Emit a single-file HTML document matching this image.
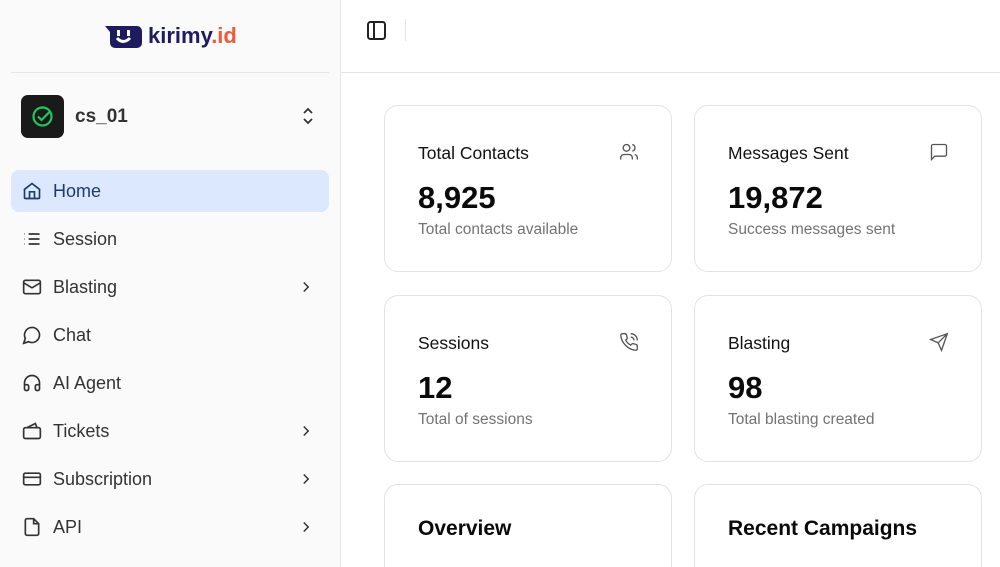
<!DOCTYPE html>
<html><head><meta charset="utf-8"><style>
*{box-sizing:border-box;margin:0;padding:0}
html{width:1000px;height:567px;overflow:hidden}
body{width:1000px;height:567px;overflow:hidden;font-family:"Liberation Sans",sans-serif;background:#fff;position:relative}
.side{position:absolute;left:0;top:0;width:341px;height:567px;background:#fafafa;border-right:1px solid #e5e5e5}
.logo{position:absolute;left:103px;top:22px;height:28px;display:flex;align-items:center}
.logo .t{font-size:22px;font-weight:bold;color:#1e1b5e;margin-left:5px}
.logo .t span{color:#f05a3a}
.hr{position:absolute;left:11px;top:72px;width:318px;height:1px;background:#e5e5e5}
.acc{position:absolute;left:21px;top:95px;width:43px;height:43px;border-radius:7px;background:#1a1a1a}
.accn{position:absolute;left:75px;top:106px;font-size:19px;font-weight:bold;color:#333}
.item{position:absolute;left:11px;width:318px;height:42px;border-radius:8px;font-size:18px;color:#333;display:flex;align-items:center;padding-left:42px}
.item svg.ic{position:absolute;left:11px;top:11px}
.item .ch{position:absolute;right:14px;top:12px}
.main-top{position:absolute;left:341px;top:72px;width:659px;height:1px;background:#e5e5e5}
.card{position:absolute;width:288px;height:167px;border:1px solid #e3e3e3;border-radius:14px;background:#fff}
.card .h{position:absolute;left:33px;top:37px;font-size:17.5px;color:#111}
.card .v{position:absolute;left:33px;top:74px;font-size:31px;font-weight:bold;color:#0a0a0a}
.card .s{position:absolute;left:33px;top:115px;font-size:15.5px;color:#737373}
.card svg{position:absolute;right:32px;top:36px}
.card .big{position:absolute;left:33px;top:32px;font-size:21px;font-weight:bold;color:#0a0a0a}
.card.b{height:83px;border-bottom:none;border-radius:14px 14px 0 0}
</style></head><body>
<div class="side">
 <div class="logo">
  <svg width="40" height="26" viewBox="0 0 40 26"><path d="M2 3 H34 a5 5 0 0 1 5 5 V20 a5 5 0 0 1 -5 5 H12 a5 5 0 0 1 -5 -5 V9 Z" fill="#1e1b5e"/><rect x="14" y="7" width="3" height="6" fill="#fff"/><rect x="24" y="7" width="3" height="6" fill="#fff"/><path d="M14 15 q6 7 13 0" stroke="#fff" stroke-width="3" fill="none"/></svg>
  <div class="t">kirimy<span>.id</span></div>
 </div>
 <div class="hr"></div>
 <div class="acc"><svg width="43" height="43" viewBox="0 0 43 43"><circle cx="21.5" cy="21.5" r="9" stroke="#22c55e" stroke-width="2.2" fill="none"/><path d="M17 21.5 l3.5 3.5 l8 -8" stroke="#22c55e" stroke-width="2.2" fill="none"/></svg></div>
 <div class="accn">cs_01</div>
 <svg style="position:absolute;left:301px;top:106px" width="14" height="20" viewBox="0 0 14 20"><path d="M3 7 l4-4 l4 4 M3 13 l4 4 l4-4" stroke="#333" stroke-width="1.8" fill="none"/></svg>
 <div class="item" style="top:170px;background:#dbe8fe;color:#1e3a6e"><svg class="ic" width="20" height="20" viewBox="0 0 24 24" fill="none" stroke="#1e3a6e" stroke-width="2"><path d="M3 10 L12 3 L21 10 V20 a1 1 0 0 1 -1 1 H4 a1 1 0 0 1 -1 -1 Z M9 21 V13 H15 V21"/></svg>Home</div>
 <div class="item" style="top:218px"><svg class="ic" width="20" height="20" viewBox="0 0 24 24" fill="none" stroke="#333" stroke-width="2"><path d="M8 6h13M8 12h13M8 18h13M3 6h.5M3 12h.5M3 18h.5"/></svg>Session</div>
 <div class="item" style="top:266px"><svg class="ic" width="20" height="20" viewBox="0 0 24 24" fill="none" stroke="#333" stroke-width="2"><rect x="2" y="4" width="20" height="16" rx="2"/><path d="M2 7 l10 6 l10 -6"/></svg>Blasting<svg class="ch" width="18" height="18" viewBox="0 0 24 24" fill="none" stroke="#333" stroke-width="2"><path d="M9 6l6 6-6 6"/></svg></div>
 <div class="item" style="top:314px"><svg class="ic" width="20" height="20" viewBox="0 0 24 24" fill="none" stroke="#333" stroke-width="2"><path d="M7.9 20A9 9 0 1 0 4 16.1L2 22Z"/></svg>Chat</div>
 <div class="item" style="top:362px"><svg class="ic" width="20" height="20" viewBox="0 0 24 24" fill="none" stroke="#333" stroke-width="2"><path d="M3 14h3a2 2 0 0 1 2 2v3a2 2 0 0 1-2 2H5a2 2 0 0 1-2-2v-7a9 9 0 0 1 18 0v7a2 2 0 0 1-2 2h-1a2 2 0 0 1-2-2v-3a2 2 0 0 1 2-2h3"/></svg>AI Agent</div>
 <div class="item" style="top:410px"><svg class="ic" width="20" height="20" viewBox="0 0 24 24" fill="none" stroke="#333" stroke-width="2"><rect x="2" y="8" width="20" height="13" rx="2"/><path d="M6 8 L16 3 L18 8"/></svg>Tickets<svg class="ch" width="18" height="18" viewBox="0 0 24 24" fill="none" stroke="#333" stroke-width="2"><path d="M9 6l6 6-6 6"/></svg></div>
 <div class="item" style="top:458px"><svg class="ic" width="20" height="20" viewBox="0 0 24 24" fill="none" stroke="#333" stroke-width="2"><rect x="2" y="5" width="20" height="14" rx="2"/><path d="M2 10h20"/></svg>Subscription<svg class="ch" width="18" height="18" viewBox="0 0 24 24" fill="none" stroke="#333" stroke-width="2"><path d="M9 6l6 6-6 6"/></svg></div>
 <div class="item" style="top:506px"><svg class="ic" width="20" height="20" viewBox="0 0 24 24" fill="none" stroke="#333" stroke-width="2"><path d="M14 2H6a2 2 0 0 0-2 2v16a2 2 0 0 0 2 2h12a2 2 0 0 0 2-2V8Z M14 2v6h6"/></svg>API<svg class="ch" width="18" height="18" viewBox="0 0 24 24" fill="none" stroke="#333" stroke-width="2"><path d="M9 6l6 6-6 6"/></svg></div>
</div>
<svg style="position:absolute;left:367px;top:21px" width="19" height="19" viewBox="0 0 19 19" fill="none" stroke="#222" stroke-width="2"><rect x="1" y="1" width="17" height="17" rx="2.5"/><path d="M7 1v17"/></svg>
<div style="position:absolute;left:405px;top:19px;width:1px;height:22px;background:#e5e5e5"></div>
<div class="main-top"></div>

<div class="card" style="left:384px;top:105px"><div class="h">Total Contacts</div><div class="v">8,925</div><div class="s">Total contacts available</div>
<svg width="20" height="20" viewBox="0 0 24 24" fill="none" stroke="#555" stroke-width="1.6"><circle cx="9" cy="7" r="4"/><path d="M2 21v-2a4 4 0 0 1 4-4h6a4 4 0 0 1 4 4v2M16 3.1a4 4 0 0 1 0 7.8M22 21v-2a4 4 0 0 0-3-3.9"/></svg></div>
<div class="card" style="left:694px;top:105px"><div class="h">Messages Sent</div><div class="v">19,872</div><div class="s">Success messages sent</div>
<svg width="20" height="20" viewBox="0 0 24 24" fill="none" stroke="#555" stroke-width="1.6"><path d="M21 15a2 2 0 0 1-2 2H7l-4 4V5a2 2 0 0 1 2-2h14a2 2 0 0 1 2 2z"/></svg></div>
<div class="card" style="left:384px;top:295px"><div class="h">Sessions</div><div class="v">12</div><div class="s">Total of sessions</div>
<svg width="20" height="20" viewBox="0 0 24 24" fill="none" stroke="#555" stroke-width="1.6"><path d="M22 16.9v3a2 2 0 0 1-2.2 2 19.8 19.8 0 0 1-8.6-3.1 19.5 19.5 0 0 1-6-6A19.8 19.8 0 0 1 2.1 4.2 2 2 0 0 1 4.1 2h3a2 2 0 0 1 2 1.7c.1.9.4 1.8.7 2.7a2 2 0 0 1-.5 2.1L8 9.8a16 16 0 0 0 6 6l1.3-1.3a2 2 0 0 1 2.1-.4c.9.3 1.8.6 2.7.7a2 2 0 0 1 1.7 2zM14 2a8 8 0 0 1 8 8M14 6a4 4 0 0 1 4 4"/></svg></div>
<div class="card" style="left:694px;top:295px"><div class="h">Blasting</div><div class="v">98</div><div class="s">Total blasting created</div>
<svg width="20" height="20" viewBox="0 0 24 24" fill="none" stroke="#555" stroke-width="1.6"><path d="M22 2L11 13M22 2l-7 20-4-9-9-4z"/></svg></div>
<div class="card b" style="left:384px;top:484px"><div class="big">Overview</div></div>
<div class="card b" style="left:694px;top:484px"><div class="big">Recent Campaigns</div></div>
</body></html>
